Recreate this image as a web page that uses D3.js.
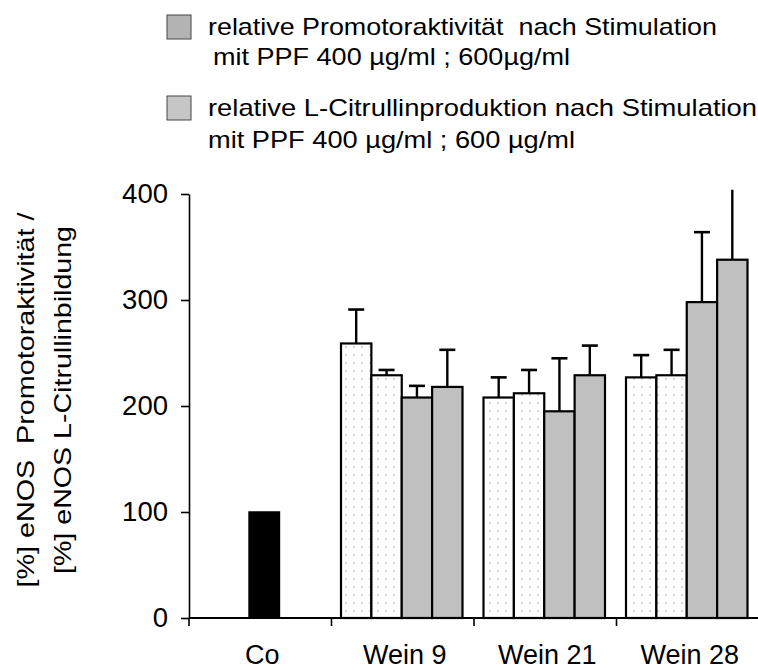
<!DOCTYPE html>
<html>
<head>
<meta charset="utf-8">
<script src="https://cdn.jsdelivr.net/npm/d3@7"></script>
<style>
  html, body { margin: 0; padding: 0; background: #fff; }
  svg { display: block; font-family: "Liberation Sans", Arial, sans-serif; }
</style>
</head>
<body>
<svg id="chart" width="758" height="670"></svg>
<script>
// Categories and tick values
const categories = ["Co", "Wein 9", "Wein 21", "Wein 28"];
const yTicks = [0, 100, 200, 300, 400];

// Control value (normalised to 100 %)
const controlValue = 100;

// Per wine: [PPF 400 promoter, PPF 600 promoter, PPF 400 citrulline, PPF 600 citrulline]
// First two bars: relative promoter activity (dotted); last two: L-citrulline production (grey)
const wineNames = ["Wein 9", "Wein 21", "Wein 28"];
const barMeans = [
  [259, 229, 208, 218],
  [208, 212, 195, 229],
  [227, 229, 298, 338]
];
const barErrorTops = [
  [291, 234, 219, 253],
  [227, 234, 245, 257],
  [248, 253, 364, 404]
];
const barKinds = ["promoter", "promoter", "citrulline", "citrulline"];

const legendLabels = [
  ["relative Promotoraktivität  nach Stimulation", "mit PPF 400 µg/ml ; 600µg/ml"],
  ["relative L-Citrullinproduktion nach Stimulation", "mit PPF 400 µg/ml ; 600 µg/ml"]
];
const yTitle = ["[%] eNOS  Promotoraktivität /", "[%] eNOS L-Citrullinbildung"];

const svg = d3.select("#chart");
const FONT = "Liberation Sans, Arial, sans-serif";

// Dotted fill for the promoter bars
const defs = svg.append("defs");
const pat = defs.append("pattern")
  .attr("id", "dots").attr("patternUnits", "userSpaceOnUse")
  .attr("width", 8).attr("height", 8);
pat.append("rect").attr("width", 8).attr("height", 8).attr("fill", "#fff");
pat.append("circle").attr("cx", 2).attr("cy", 3).attr("r", 0.9).attr("fill", "#c4c4c4");

const fills = { promoter: "url(#dots)", citrulline: "#c0c0c0" };

// Scales
const x = d3.scaleBand().domain(categories).range([189, 759]).padding(0);
const y = d3.scaleLinear().domain([0, 400]).range([618, 194]);
const sub = d3.scaleBand().domain(d3.range(4)).range([9.5, 131]).padding(0);

// Y axis
const yAxis = svg.append("g")
  .attr("transform", `translate(${x.range()[0]},0)`)
  .call(d3.axisLeft(y).tickValues(yTicks).tickSize(8).tickSizeOuter(0).tickPadding(13));
yAxis.select(".domain").attr("stroke", "#000").attr("stroke-width", 1.6);
yAxis.selectAll(".tick line").attr("stroke", "#000").attr("stroke-width", 1.6);
yAxis.selectAll(".tick text")
  .attr("font-size", 27.5).attr("fill", "#000").attr("font-family", FONT);

// X axis: baseline plus ticks at category boundaries
const bounds = categories.map(c => x(c));
svg.append("line")
  .attr("x1", x.range()[0]).attr("x2", x.range()[1])
  .attr("y1", y(0)).attr("y2", y(0))
  .attr("stroke", "#000").attr("stroke-width", 2);
svg.selectAll(".xtick").data(bounds).join("line")
  .attr("class", "xtick")
  .attr("x1", d => d).attr("x2", d => d)
  .attr("y1", y(0)).attr("y2", y(0) + 8)
  .attr("stroke", "#000").attr("stroke-width", 1.6);
svg.selectAll(".xlabel").data(categories).join("text")
  .attr("class", "xlabel")
  .attr("x", d => x(d) + x.bandwidth() / 2 + 2)
  .attr("y", 664)
  .attr("text-anchor", "middle")
  .attr("font-size", 27)
  .text(d => d);

// Control bar
const coW = sub.bandwidth();
svg.append("rect")
  .attr("x", x("Co") + x.bandwidth() / 2 - coW / 2 + 4)
  .attr("y", y(controlValue))
  .attr("width", coW)
  .attr("height", y(0) - y(controlValue))
  .attr("fill", "#000").attr("stroke", "#000").attr("stroke-width", 1.5);

// Plot clip (whiskers reaching past the top of the axis get cut)
defs.append("clipPath").attr("id", "plotclip")
  .append("rect").attr("x", 180).attr("y", 188).attr("width", 580).attr("height", 440);

const flat = [];
wineNames.forEach((name, gi) => {
  barMeans[gi].forEach((v, i) => {
    flat.push({
      name, i, v, top: barErrorTops[gi][i], kind: barKinds[i],
      cx: x(name) + sub(i) + sub.bandwidth() / 2,
      x0: x(name) + sub(i)
    });
  });
});

// error bars (drawn first; bar outlines sit on top)
const eb = svg.append("g").attr("clip-path", "url(#plotclip)");
eb.selectAll("line.whisker").data(flat).join("line")
  .attr("class", "whisker")
  .attr("x1", d => d.cx).attr("x2", d => d.cx)
  .attr("y1", d => y(d.v)).attr("y2", d => y(d.top))
  .attr("stroke", "#000").attr("stroke-width", 2.4);
eb.selectAll("line.cap").data(flat.filter(d => d.top <= 400)).join("line")
  .attr("class", "cap")
  .attr("x1", d => d.cx - 8).attr("x2", d => d.cx + 8)
  .attr("y1", d => y(d.top)).attr("y2", d => y(d.top))
  .attr("stroke", "#000").attr("stroke-width", 2.6);

svg.append("g").selectAll("rect").data(flat).join("rect")
  .attr("x", d => d.x0)
  .attr("y", d => y(d.v))
  .attr("width", sub.bandwidth())
  .attr("height", d => y(0) - y(d.v))
  .attr("fill", d => fills[d.kind])
  .attr("stroke", "#000").attr("stroke-width", 2.2);

// Legend
const legendFills = ["#b3b3b3", "#c6c6c6"];
const legendTop = [15, 96];
const legendBase = [[35, 65], [116, 148]];
const legendX = [[208, 213], [208, 208]];
const legendLen = [[509, 357], [549, 367]];
legendLabels.forEach((lines, i) => {
  svg.append("rect")
    .attr("x", 167).attr("y", legendTop[i])
    .attr("width", 24).attr("height", 24)
    .attr("fill", legendFills[i]).attr("stroke", "#444").attr("stroke-width", 1);
  lines.forEach((t, j) => {
    svg.append("text")
      .attr("x", legendX[i][j]).attr("y", legendBase[i][j])
      .attr("font-size", 24)
      .attr("textLength", legendLen[i][j])
      .attr("lengthAdjust", "spacingAndGlyphs")
      .style("white-space", "pre")
      .text(t);
  });
});

// Y axis title (two rotated lines)
const titleX = [34, 71];
const titleLen = [375, 348];
yTitle.forEach((t, i) => {
  svg.append("text")
    .attr("transform", `translate(${titleX[i]},${400}) rotate(-90)`)
    .attr("text-anchor", "middle")
    .attr("font-size", 24)
    .attr("textLength", titleLen[i])
    .attr("lengthAdjust", "spacingAndGlyphs")
    .style("white-space", "pre")
    .text(t);
});
</script>
</body>
</html>
